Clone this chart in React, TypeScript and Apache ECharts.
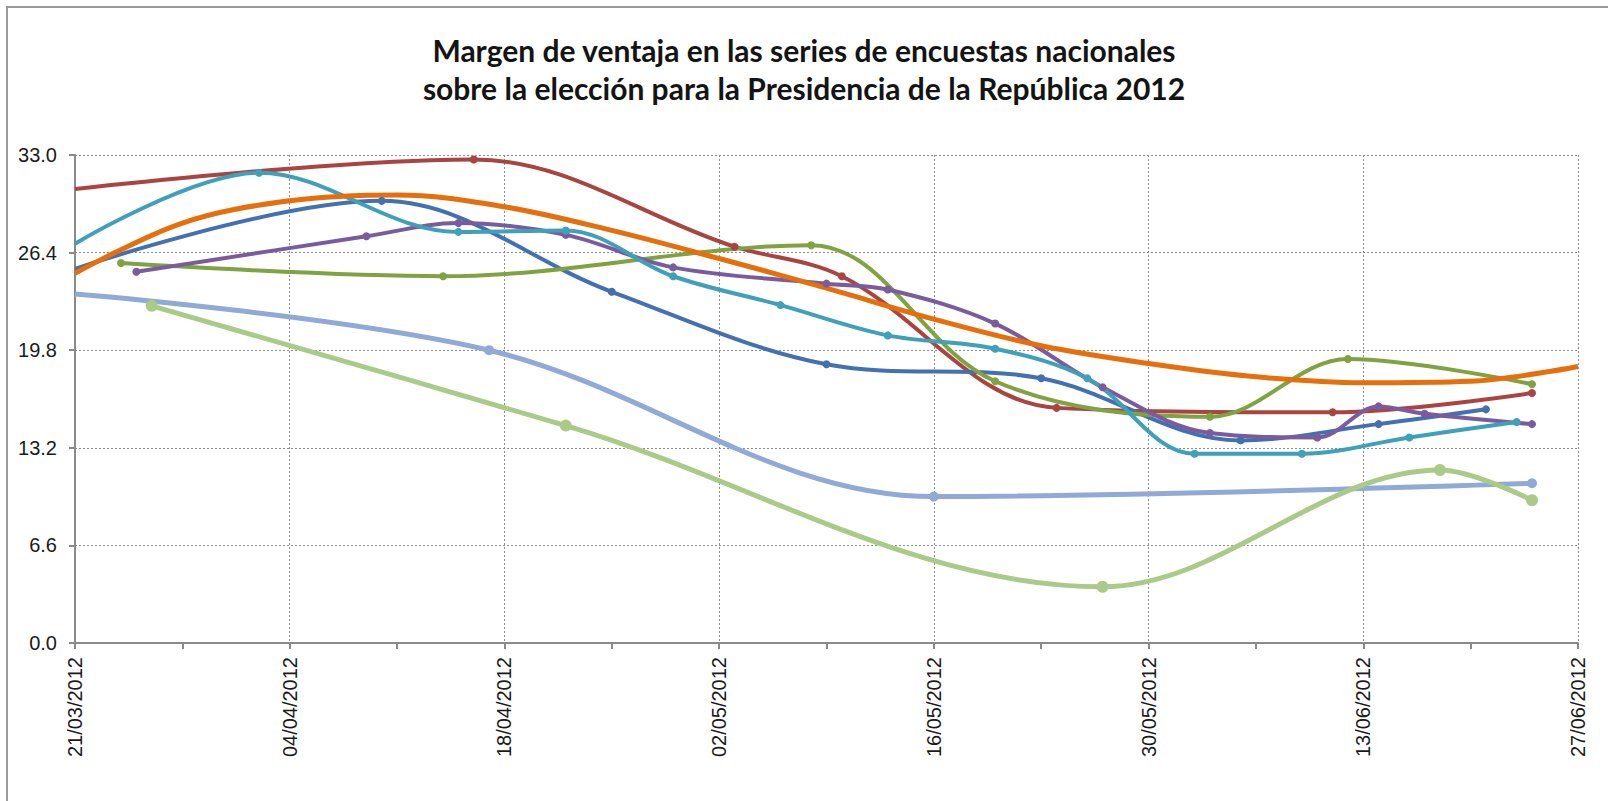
import React, { useEffect, useRef } from "react";
import * as echarts from "echarts";

const titleText = "Margen de ventaja en las series de encuestas nacionales\nsobre la elección para la Presidencia de la República 2012";

const axisStart = "21/03/2012";
const axisEnd = "27/06/2012";
const yTicks = [0, 6.6, 13.2, 19.8, 26.4, 33.0];

const lightBlueDates = ["21/03/2012", "17/04/2012", "16/05/2012", "24/06/2012"];
const lightBlueValues = [23.6, 19.8, 9.9, 10.8];

const lightGreenDates = ["26/03/2012", "22/04/2012", "27/05/2012", "18/06/2012", "24/06/2012"];
const lightGreenValues = [22.8, 14.7, 3.8, 11.7, 9.65];

const redDates = ["21/03/2012", "16/04/2012", "03/05/2012", "10/05/2012", "24/05/2012", "11/06/2012", "24/06/2012"];
const redValues = [30.7, 32.7, 26.8, 24.8, 15.9, 15.6, 16.9];

const blueDates = ["21/03/2012", "10/04/2012", "25/04/2012", "09/05/2012", "23/05/2012", "05/06/2012", "14/06/2012", "21/06/2012"];
const blueValues = [25.3, 29.9, 23.75, 18.85, 17.9, 13.7, 14.8, 15.8];

const greenDates = ["24/03/2012", "14/04/2012", "08/05/2012", "20/05/2012", "03/06/2012", "12/06/2012", "24/06/2012"];
const greenValues = [25.7, 24.8, 26.9, 17.7, 15.3, 19.2, 17.5];

const purpleDates = ["25/03/2012", "09/04/2012", "15/04/2012", "22/04/2012", "29/04/2012", "09/05/2012", "13/05/2012", "20/05/2012", "27/05/2012", "03/06/2012", "10/06/2012", "14/06/2012", "17/06/2012", "24/06/2012"];
const purpleValues = [25.1, 27.5, 28.4, 27.6, 25.4, 24.3, 23.9, 21.6, 17.3, 14.2, 13.9, 16.0, 15.5, 14.8];

const tealDates = ["21/03/2012", "02/04/2012", "15/04/2012", "22/04/2012", "29/04/2012", "06/05/2012", "13/05/2012", "20/05/2012", "26/05/2012", "02/06/2012", "09/06/2012", "16/06/2012", "23/06/2012"];
const tealValues = [27.0, 31.8, 27.8, 27.9, 24.8, 22.85, 20.8, 19.9, 17.9, 12.8, 12.8, 13.9, 14.95];

const orangeDates = ["21/03/2012", "28/03/2012", "04/04/2012", "11/04/2012", "18/04/2012", "25/04/2012", "02/05/2012", "09/05/2012", "16/05/2012", "23/05/2012", "30/05/2012", "06/06/2012", "13/06/2012", "20/06/2012", "27/06/2012"];
const orangeValues = [25.0, 28.4, 29.9, 30.3, 29.5, 27.9, 26.0, 24.0, 21.9, 20.1, 18.9, 18.0, 17.6, 17.7, 18.7];

const DAY = 86400000;
function toUTC(s: string) {
  const [dd, mm, yy] = s.split("/").map(Number);
  return Date.UTC(yy, mm - 1, dd);
}
const START = toUTC(axisStart);
function dayOf(s: string) {
  return Math.round((toUTC(s) - START) / DAY);
}
function pad(n: number) {
  return n < 10 ? "0" + n : "" + n;
}
function fmtDay(v: number) {
  const d = new Date(START + Math.round(v) * DAY);
  return pad(d.getUTCDate()) + "/" + pad(d.getUTCMonth() + 1) + "/" + d.getUTCFullYear();
}
function pairs(dates: string[], values: number[]) {
  return dates.map((d, i) => [dayOf(d), values[i]]);
}

export default function App() {
  const ref = useRef<HTMLDivElement>(null);
  useEffect(() => {
    if (!ref.current) return;
    const chart = echarts.init(ref.current, undefined, { renderer: "svg" });
    const mk = (name: string, dates: string[], values: number[], color: string, width: number, size: number) => ({
      name,
      type: "line",
      data: pairs(dates, values),
      smooth: 0.35,
      showSymbol: size > 0,
      symbol: "circle",
      symbolSize: (v: number[]) => (v[0] === 0 ? 0 : size),
      itemStyle: { color },
      lineStyle: { color, width },
      emphasis: { disabled: true },
      clip: true,
    });
    chart.setOption({
      animation: false,
      backgroundColor: "#ffffff",
      title: {
        text: titleText,
        left: "center",
        top: 26,
        textStyle: {
          fontFamily: "Lato",
          fontWeight: "bold",
          fontSize: 30,
          lineHeight: 38,
          color: "#141414",
        },
      },
      graphic: [
        {
          type: "rect",
          shape: { x: 7, y: 7, width: 1700, height: 900 },
          style: { fill: "none", stroke: "#9a9a9a", lineWidth: 2 },
          silent: true,
        },
      ],
      grid: { left: 75, right: 30, top: 155, bottom: 158, containLabel: false },
      xAxis: {
        type: "value",
        min: 0,
        max: dayOf(axisEnd),
        interval: 14,
        axisLine: { show: true, onZero: false, lineStyle: { color: "#8a8a8a", width: 2 } },
        axisTick: { show: true, length: 6, lineStyle: { color: "#8a8a8a", width: 2 } },
        minorTick: { show: true, splitNumber: 2, length: 6, lineStyle: { color: "#8a8a8a", width: 2 } },
        splitLine: { show: true, lineStyle: { color: "#8c8c8c", width: 1, type: [2, 2] } },
        axisLabel: {
          rotate: 90,
          margin: 14,
          formatter: (v: number) => fmtDay(v),
          fontFamily: "Liberation Sans",
          fontSize: 20,
          color: "#1a1a1a",
        },
      },
      yAxis: {
        type: "value",
        min: yTicks[0],
        max: yTicks[yTicks.length - 1],
        interval: 6.6,
        axisLine: { show: true, lineStyle: { color: "#8a8a8a", width: 2 } },
        axisTick: { show: true, length: 6, lineStyle: { color: "#8a8a8a", width: 2 } },
        splitLine: { show: true, lineStyle: { color: "#8c8c8c", width: 1, type: [2, 2] } },
        axisLabel: {
          margin: 18,
          formatter: (v: number) => v.toFixed(1),
          fontFamily: "Liberation Sans",
          fontSize: 20,
          color: "#1a1a1a",
        },
      },
      series: [
        mk("Serie 7", lightBlueDates, lightBlueValues, "#8faad6", 5, 10),
        mk("Serie 8", lightGreenDates, lightGreenValues, "#aacb88", 5, 12),
        mk("Serie 2", redDates, redValues, "#aa4441", 4, 8),
        mk("Serie 1", blueDates, blueValues, "#4270b0", 4, 8),
        mk("Serie 3", greenDates, greenValues, "#7fa340", 4, 8),
        mk("Serie 4", purpleDates, purpleValues, "#7a5b9e", 4, 8),
        mk("Serie 5", tealDates, tealValues, "#3fa0ba", 4, 8),
        mk("Serie 6", orangeDates, orangeValues, "#e66f0c", 5, 0),
      ],
    });
    return () => chart.dispose();
  }, []);
  return (
    <div
      ref={ref}
      style={{ position: "fixed", left: 0, top: 0, width: 1608, height: 801, background: "#fff" }}
    />
  );
}
